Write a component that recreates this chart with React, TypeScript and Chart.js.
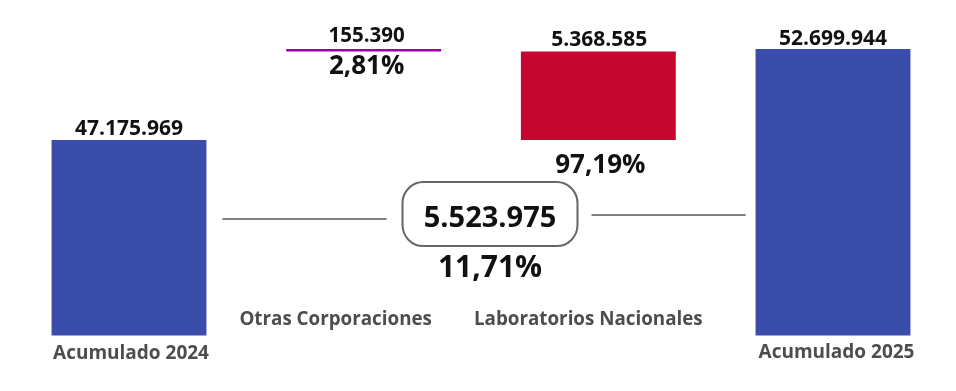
import React, { useEffect, useRef } from "react";
import { Chart, registerables } from "chart.js";

Chart.register(...registerables);

// ---- data ----
const categories = ["Acumulado 2024", "Otras Corporaciones", "Laboratorios Nacionales", "Acumulado 2025"];
const acumulado2024 = 47175969;
const otrasCorporaciones = 155390;
const laboratoriosNacionales = 5368585;
const acumulado2025 = 52699944;
const yAxisMin = 35300000;
const yAxisMax = 55000000;

// ---- helpers ----
const fmtNum = (n: number) => String(Math.round(n)).replace(/\B(?=(\d{3})+(?!\d))/g, ".");
const fmtPct = (p: number) => p.toFixed(2).replace(".", ",") + "%";

const variacion = acumulado2025 - acumulado2024;
const pctOtras = (otrasCorporaciones / variacion) * 100;
const pctLab = (laboratoriosNacionales / variacion) * 100;
const pctVariacion = (variacion / acumulado2024) * 100;

const labTop = acumulado2024 + laboratoriosNacionales;
const barData: any[] = [
  acumulado2024,
  [labTop, labTop + otrasCorporaciones],
  [acumulado2024, labTop],
  acumulado2025,
];

const BLUE = "#3A4DAB";
const PURPLE = "#9900A0";
const RED = "#C5062E";
const barColors = [BLUE, PURPLE, RED, BLUE];

const numFont = (size: number, weight = "bold") => `${weight} ${size}px "Open Sans", sans-serif`;

const overlayPlugin = {
  id: "overlay",
  afterDatasetsDraw(chart: any) {
    const ctx: CanvasRenderingContext2D = chart.ctx;
    const bars: any[] = chart.getDatasetMeta(0).data;
    const area = chart.chartArea;
    ctx.save();
    ctx.textAlign = "center";
    ctx.textBaseline = "alphabetic";
    ctx.fillStyle = "#111111";

    // totals
    ctx.font = numFont(21);
    ctx.fillText(fmtNum(acumulado2024), bars[0].x, bars[0].y - 5);
    ctx.fillText(fmtNum(acumulado2025), bars[3].x, bars[3].y - 3.5);

    // otras corporaciones
    ctx.font = numFont(20.5);
    ctx.fillText(fmtNum(otrasCorporaciones), bars[1].x + 3, bars[1].y - 7);
    ctx.font = numFont(26);
    ctx.fillText(fmtPct(pctOtras), bars[1].x + 3, bars[1].base + 22.5);

    // laboratorios nacionales
    ctx.font = numFont(21);
    ctx.fillText(fmtNum(laboratoriosNacionales), bars[2].x + 1, bars[2].y - 6);
    ctx.font = numFont(26);
    ctx.fillText(fmtPct(pctLab), bars[2].x + 2, bars[2].base + 33);

    // central box
    const cx = (bars[1].x + bars[2].x) / 2 + 9;
    const cy = area.top + 203;
    const bw = 175;
    const bh = 64;
    ctx.strokeStyle = "#666666";
    ctx.lineWidth = 2;
    ctx.beginPath();
    (ctx as any).roundRect(cx - bw / 2, cy - bh / 2, bw, bh, 21);
    ctx.stroke();
    ctx.font = numFont(29);
    ctx.fillText(fmtNum(variacion), cx, cy + 12.5);
    ctx.font = numFont(30);
    ctx.fillText(fmtPct(pctVariacion), cx, cy + 62.5);

    // connector lines
    ctx.strokeStyle = "#555555";
    ctx.lineWidth = 1.5;
    ctx.beginPath();
    ctx.moveTo(bars[0].x + bars[0].width / 2 + 16, cy + 5);
    ctx.lineTo(cx - bw / 2 - 16, cy + 5);
    ctx.moveTo(cx + bw / 2 + 14, cy + 1);
    ctx.lineTo(bars[3].x - bars[3].width / 2 - 10, cy + 1);
    ctx.stroke();

    // category labels
    ctx.fillStyle = "#4D4D4D";
    const labelPos = [
      { dx: 2, dy: 23.5, size: 19 },
      { dx: -28, dy: -10.6, size: 18.8 },
      { dx: -10, dy: -10.6, size: 18.8 },
      { dx: 3.5, dy: 22, size: 19 },
    ];
    categories.forEach((c, i) => {
      ctx.font = numFont(labelPos[i].size);
      ctx.fillText(c, bars[i].x + labelPos[i].dx, area.bottom + labelPos[i].dy);
    });
    ctx.restore();
  },
};

export default function App() {
  const ref = useRef<HTMLCanvasElement | null>(null);
  useEffect(() => {
    if (!ref.current) return;
    const chart = new Chart(ref.current, {
      type: "bar",
      data: {
        labels: categories,
        datasets: [
          {
            data: barData,
            backgroundColor: barColors,
            borderWidth: 0,
            barPercentage: 0.66,
            categoryPercentage: 1,
          },
        ],
      },
      options: {
        animation: false,
        responsive: false,
        layout: { padding: { left: 11.67, right: 5.67, top: 11.1, bottom: 55.4 } },
        plugins: { legend: { display: false }, tooltip: { enabled: false } },
        scales: {
          x: { display: false },
          y: { display: false, min: yAxisMin, max: yAxisMax },
        },
      },
      plugins: [overlayPlugin],
    });
    return () => chart.destroy();
  }, []);
  return (
    <div style={{ position: "fixed", left: 0, top: 0, width: 956, height: 391, background: "#fff" }}>
      <canvas ref={ref} width={956} height={391} style={{ display: "block" }} />
    </div>
  );
}
